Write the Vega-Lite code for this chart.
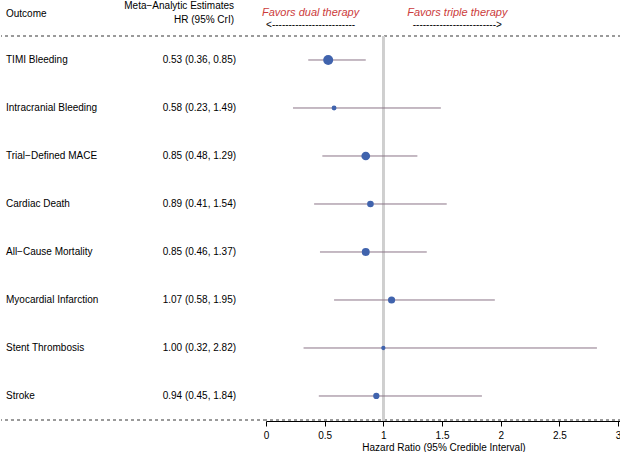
{
  "$schema": "https://vega.github.io/schema/vega-lite/v6.json",
  "padding": 0,
  "spacing": 0,
  "bounds": "flush",
  "background": "white",
  "config": {
    "view": {"stroke": null},
    "concat": {"spacing": 0},
    "font": "Liberation Sans",
    "text": {"font": "Liberation Sans", "fontSize": 10, "color": "#000000"}
  },
  "data": {
    "values": [
      {"Outcome": "TIMI Bleeding", "hr": 0.53, "lo": 0.36, "hi": 0.85, "label": "0.53 (0.36, 0.85)", "precision": 20.8},
      {"Outcome": "Intracranial Bleeding", "hr": 0.58, "lo": 0.23, "hi": 1.49, "label": "0.58 (0.23, 1.49)", "precision": 4.4},
      {"Outcome": "Trial\u2212Defined MACE", "hr": 0.85, "lo": 0.48, "hi": 1.29, "label": "0.85 (0.48, 1.29)", "precision": 15.7},
      {"Outcome": "Cardiac Death", "hr": 0.89, "lo": 0.41, "hi": 1.54, "label": "0.89 (0.41, 1.54)", "precision": 8.8},
      {"Outcome": "All\u2212Cause Mortality", "hr": 0.85, "lo": 0.46, "hi": 1.37, "label": "0.85 (0.46, 1.37)", "precision": 12.9},
      {"Outcome": "Myocardial Infarction", "hr": 1.07, "lo": 0.58, "hi": 1.95, "label": "1.07 (0.58, 1.95)", "precision": 10.4},
      {"Outcome": "Stent Thrombosis", "hr": 1.0, "lo": 0.32, "hi": 2.82, "label": "1.00 (0.32, 2.82)", "precision": 3.2},
      {"Outcome": "Stroke", "hr": 0.94, "lo": 0.45, "hi": 1.84, "label": "0.94 (0.45, 1.84)", "precision": 7.7}
    ]
  },
  "hconcat": [
    {
      "width": 265,
      "height": 420,
      "encoding": {
        "y": {"field": "Outcome", "type": "nominal", "sort": null, "axis": null,
              "scale": {"type": "band", "domain": ["TIMI Bleeding", "Intracranial Bleeding", "Trial\u2212Defined MACE", "Cardiac Death", "All\u2212Cause Mortality", "Myocardial Infarction", "Stent Thrombosis", "Stroke"], "paddingInner": 0, "paddingOuter": 0.375, "align": 0.972}}
      },
      "layer": [
        {"mark": {"type": "rule", "color": "#9a9a9a", "strokeDash": [3, 3], "strokeWidth": 1},
         "encoding": {"y": {"datum": "TIMI Bleeding", "bandPosition": 0}}},
        {"mark": {"type": "rule", "color": "#9a9a9a", "strokeDash": [3, 3], "strokeWidth": 1},
         "encoding": {"y": {"datum": "Stroke", "bandPosition": 1}}},
        {"mark": {"type": "text", "align": "left", "baseline": "middle"},
         "encoding": {
           "x": {"datum": "Outcome", "scale": {"type": "point", "domain": ["Outcome", "Estimate"], "padding": 0.076, "align": 0.143}, "axis": null},
           "text": {"field": "Outcome"}
         }},
        {"mark": {"type": "text", "align": "right", "baseline": "middle"},
         "encoding": {
           "x": {"datum": "Estimate"},
           "text": {"field": "label"}
         }},
        {"data": {"values": [{"h": "Outcome"}]},
         "mark": {"type": "text", "align": "left", "baseline": "middle", "dy": -46},
         "encoding": {"x": {"datum": "Outcome"}, "y": {"datum": "TIMI Bleeding"}, "text": {"field": "h"}}},
        {"data": {"values": [{"h": "Meta\u2212Analytic Estimates"}]},
         "mark": {"type": "text", "align": "right", "baseline": "middle", "dy": -54, "dx": -2},
         "encoding": {"x": {"datum": "Estimate"}, "y": {"datum": "TIMI Bleeding"}, "text": {"field": "h"}}},
        {"data": {"values": [{"h": "HR (95% CrI)"}]},
         "mark": {"type": "text", "align": "right", "baseline": "middle", "dy": -40, "dx": -2},
         "encoding": {"x": {"datum": "Estimate"}, "y": {"datum": "TIMI Bleeding"}, "text": {"field": "h"}}}
      ]
    },
    {
      "width": 355,
      "height": 420,
      "encoding": {
        "y": {"field": "Outcome", "type": "nominal", "sort": null, "axis": null,
              "scale": {"type": "band", "domain": ["TIMI Bleeding", "Intracranial Bleeding", "Trial\u2212Defined MACE", "Cardiac Death", "All\u2212Cause Mortality", "Myocardial Infarction", "Stent Thrombosis", "Stroke"], "paddingInner": 0, "paddingOuter": 0.375, "align": 0.972}}
      },
      "layer": [
        {"mark": {"type": "rule", "color": "#9a9a9a", "strokeDash": [3, 3], "strokeWidth": 1},
         "encoding": {"y": {"datum": "TIMI Bleeding", "bandPosition": 0}}},
        {"mark": {"type": "rule", "color": "#9a9a9a", "strokeDash": [3, 3], "strokeWidth": 1},
         "encoding": {"y": {"datum": "Stroke", "bandPosition": 1}}},
        {"mark": {"type": "rule", "color": "#cfcfcf", "strokeWidth": 2},
         "encoding": {
           "x": {"datum": 1, "type": "quantitative"},
           "y": {"datum": "TIMI Bleeding", "bandPosition": 0},
           "y2": {"value": "height"}
         }},
        {"mark": {"type": "rule", "color": "#8a7486", "strokeWidth": 1},
         "encoding": {
           "x": {"field": "lo", "type": "quantitative",
                 "scale": {"domain": [0, 3.025], "nice": false, "zero": false},
                 "axis": {"values": [0, 0.5, 1, 1.5, 2, 2.5, 3], "format": "~g", "title": "Hazard Ratio (95% Credible Interval)",
                          "grid": false, "domainColor": "#000000", "tickColor": "#000000", "labelColor": "#000000",
                          "titleColor": "#000000", "labelFontSize": 10, "titleFontSize": 10, "titleFontWeight": "normal",
                          "tickSize": 5, "labelPadding": 4, "titlePadding": 2, "labelFlush": false, "labelFont": "Liberation Sans", "titleFont": "Liberation Sans", "labelOverlap": false}},
           "x2": {"field": "hi"}
         }},
        {"mark": {"type": "point", "filled": true, "shape": "circle", "color": "#4063ad", "opacity": 1},
         "encoding": {
           "x": {"field": "hr", "type": "quantitative"},
           "size": {"field": "precision", "type": "quantitative", "legend": null,
                    "scale": {"domain": [0, 21], "range": [4, 100], "zero": false}}
         }},
        {"data": {"values": [{"h": "Favors dual therapy"}]},
         "mark": {"type": "text", "align": "center", "baseline": "middle", "dy": -47, "fontStyle": "italic", "color": "#cc3b3b", "fontSize": 11},
         "encoding": {"x": {"datum": 0.38, "type": "quantitative"}, "y": {"datum": "TIMI Bleeding"}, "text": {"field": "h"}}},
        {"data": {"values": [{"h": "Favors triple therapy"}]},
         "mark": {"type": "text", "align": "center", "baseline": "middle", "dy": -47, "fontStyle": "italic", "color": "#cc3b3b", "fontSize": 11},
         "encoding": {"x": {"datum": 1.63, "type": "quantitative"}, "y": {"datum": "TIMI Bleeding"}, "text": {"field": "h"}}},
        {"data": {"values": [{"h": "<-------------------------"}]},
         "mark": {"type": "text", "align": "center", "baseline": "middle", "dy": -35},
         "encoding": {"x": {"datum": 0.38, "type": "quantitative"}, "y": {"datum": "TIMI Bleeding"}, "text": {"field": "h"}}},
        {"data": {"values": [{"h": "------------------------->"}]},
         "mark": {"type": "text", "align": "center", "baseline": "middle", "dy": -35},
         "encoding": {"x": {"datum": 1.63, "type": "quantitative"}, "y": {"datum": "TIMI Bleeding"}, "text": {"field": "h"}}}
      ]
    }
  ]
}
